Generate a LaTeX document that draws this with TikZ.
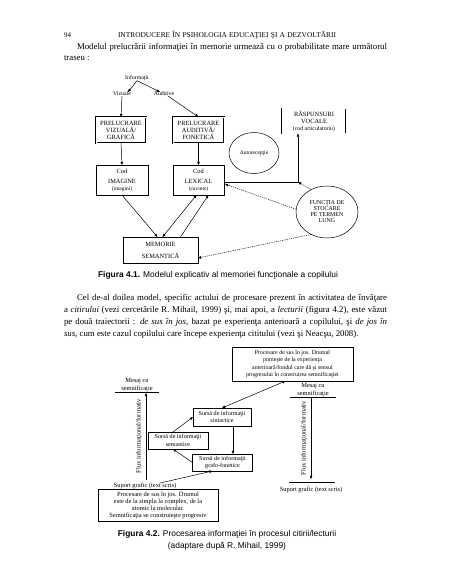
\documentclass[tikz,border=0pt]{standalone}
\usepackage{fontspec}
\setmainfont{Liberation Serif}
\newfontfamily\capfont{Liberation Sans}
\usetikzlibrary{shapes.geometric,arrows.meta}
\begin{document}
\begin{tikzpicture}[x=1pt,y=-1pt,
  every node/.style={inner sep=0pt, outer sep=0pt},
  txt/.style={font=\fontsize{8.8}{10}\selectfont, anchor=base west},
  dg/.style={font=\fontsize{5.8}{6.6}\selectfont, align=center},
  bx/.style={draw, line width=0.5pt, align=center, font=\fontsize{6.4}{7}\selectfont},
  dbx/.style={bx, double, double distance=0.9pt, line width=0.45pt},
  bx2/.style={draw, line width=0.5pt, align=center, font=\fontsize{6.1}{7.4}\selectfont},
  el/.style={draw, ellipse, line width=0.5pt, align=center},
  ar/.style={-{Triangle[length=3.2pt,width=2.6pt]}, line width=0.5pt},
  arr/.style={{Triangle[length=3.2pt,width=2.6pt]}-{Triangle[length=3.2pt,width=2.6pt]}, line width=0.5pt},
  dar/.style={ar, dash pattern=on 1.2pt off 1pt, line width=0.45pt},
  capt/.style={font=\capfont\fontsize{8.4}{9}\selectfont, anchor=base},
  sm/.style={font=\fontsize{6.4}{7.2}\selectfont, align=center}
]
\fill[white] (0,0) rectangle (452,584);
\useasboundingbox (0,0) rectangle (452,584);

% header
\node[font=\fontsize{7}{8}\selectfont, anchor=base west] (pg) at (64,37) {94};
\node[font=\fontsize{7.4}{8}\selectfont, anchor=base west] (hd) at (118,37) {\makebox[218pt][s]{INTRODUCERE ÎN PSIHOLOGIA EDUCAŢIEI ŞI A DEZVOLTĂRII}};

% paragraph 1
\node[txt] (p1a) at (77,49) {\makebox[310pt][s]{Modelul prelucrării informaţiei în memorie urmează cu o probabilitate mare următorul}};
\node[txt] (p1b) at (64,60) {traseu :};

% diagram 1
\node[dg] (info) at (137,78) {Informaţii};
\node[dg] (viz) at (122,94) {Vizuale};
\node[dg] (aud) at (164,94) {Auditive};
\node[dbx, minimum width=50pt, minimum height=26pt] (pv) at (121,130) {PRELUCRARE\\VIZUALĂ/\\GRAFICĂ};
\node[dbx, minimum width=51pt, minimum height=26pt] (pa) at (198.5,130) {PRELUCRARE\\AUDITIVĂ/\\FONETICĂ};
\node[el, minimum width=50pt, minimum height=41pt, font=\fontsize{5.5}{6}\selectfont] (auto) at (254,153) {Autorecepţie};
\node[dbx, minimum width=64pt, minimum height=25pt] (rv) at (314,121) {RĂSPUNSURI\\VOCALE\\{\fontsize{5.8}{6.4}\selectfont(cod articulatoriu)}};
\node[bx, minimum width=52pt, minimum height=30pt] (ci) at (122,180) {Cod\\[3pt]IMAGINE\\{\fontsize{5.4}{5.8}\selectfont(imagini)}};
\node[bx, minimum width=51pt, minimum height=30pt] (cl) at (198.5,180) {Cod\\[3pt]LEXICAL\\{\fontsize{5.4}{5.8}\selectfont(cuvinte)}};
\node[el, minimum width=62pt, minimum height=52pt, font=\fontsize{5.9}{6}\selectfont] (fs) at (327,212) {FUNCŢIA DE\\STOCARE\\PE TERMEN\\LUNG};
\node[bx, minimum width=75pt, minimum height=26pt] (ms) at (160.5,250) {MEMORIE\\[5pt]SEMANTICĂ};

\draw[ar] (info.south) -- ([xshift=6pt]viz.north);
\draw[ar] (info.south) -- ([xshift=-4pt]aud.north);
\draw[ar] (viz.south) -- (pv.north);
\draw[ar] ([xshift=4pt]aud.south) -- (pa.north);
\draw[ar] (pv.south) -- (ci.north);
\draw[ar] (pa.south) -- (cl.north);
\coordinate (co) at (298,182);
\coordinate (cle) at (225,184);
\draw[ar] (cl.east |- co) -- (co) -- (co |- rv.south);
\draw[dar] (fs.175) -- (cle);
\draw[dar] (fs.125) -- (co);
\draw[dar] (fs.235) -- ([yshift=-8pt]ms.east);
\draw[ar] (ci.south) -- ([xshift=-3pt]ms.north);
\draw[arr] ([xshift=2pt]ms.north) -- ([xshift=-2pt]cl.south);
\draw[ar] ([xshift=20pt]ms.north) -- ([xshift=10pt]cl.south);

\node[capt] (c1) at (218,277.5) {\textbf{Figura 4.1.} Modelul explicativ al memoriei funcţionale a copilului};

% paragraph 2
\node[txt] (p2a) at (77,300) {\makebox[310pt][s]{Cel de-al doilea model, specific actului de procesare prezent în activitatea de învăţare}};
\node[txt] (p2b) at (64,312) {\makebox[323pt][s]{a \textit{citirului} (vezi cercetările R. Mihail, 1999) şi, mai apoi, a \textit{lecturii} (figura 4.2), este văzut}};
\node[txt] (p2c) at (64,324) {\makebox[323pt][s]{pe două traiectorii : \textit{de sus în jos}, bazat pe experienţa anterioară a copilului, şi \textit{de jos în}}};
\node[txt] (p2d) at (64,336) {\textit{sus}, cum este cazul copilului care începe experienţa cititului (vezi şi Neacşu, 2008).};

% diagram 2
\node[bx2, minimum width=121pt, minimum height=34pt, font=\fontsize{5.9}{7.6}\selectfont] (tb) at (292.5,364) {Procesare de sus în jos. Drumul\\porneşte de la experienţa\\anterioară/fondul care dă şi sensul\\progresului în construirea semnificaţiei};
\node[sm] (ml) at (137,385) {Mesaj cu\\semnificaţie};
\node[sm] (mr) at (313,390) {Mesaj cu\\semnificaţie};
\draw[line width=0.5pt] (115,392.5) -- (159,392.5);
\draw[line width=0.5pt] (290,397.5) -- (336,397.5);
\coordinate (lt) at (146,393);
\coordinate (lb) at (146,480);
\coordinate (rt) at (311,398);
\coordinate (rb) at (311,479);
\draw[ar] (lb) -- (lt);
\draw[ar] (rt) -- (rb);
\node[sm, rotate=90, font=\fontsize{6.6}{7}\selectfont] (fl) at (139,436) {Flux informaţional/formativ};
\node[sm, rotate=90, font=\fontsize{6.6}{7}\selectfont] (fr) at (304,438) {Flux informaţional/formativ};
\draw[line width=0.5pt] (289,482.5) -- (335,482.5);
\node[sm] (sr) at (311,489.5) {Suport grafic (text scris)};

\node[bx2, minimum width=58pt, minimum height=18pt] (sint) at (222,417) {Sursă de informaţii\\sintactice};
\node[bx2, minimum width=60pt, minimum height=17pt] (sem) at (178,440.5) {Sursă de informaţii\\semantice};
\node[bx2, minimum width=60pt, minimum height=17pt] (gf) at (222.5,462.5) {Sursă de informaţii\\grafo-fonetice};
\node[sm] (sl) at (145,486) {Suport grafic (text scris)};
\node[bx2, minimum width=120pt, minimum height=32pt, font=\fontsize{6.4}{7.2}\selectfont] (bb) at (158,505.5) {Procesare de sus în jos. Drumul\\este de la simplu la complex, de la\\atomic la molecular.\\Semnificaţia se construieşte progresiv};

\draw[arr] (sint.north) -- ([xshift=-7pt]tb.south);
\draw[ar] ([xshift=11pt]sint.south) -- ([xshift=11pt]sint.south |- gf.north);
\draw[ar] (gf.west) -- ([xshift=-5pt]sem.south);
\draw[ar] ([xshift=-5pt]sem.north) -- (sint.west);
\draw[ar] ([xshift=15pt]sl.north) -- ([xshift=-10pt]gf.south);

\node[capt] (c2a) at (227,536) {\textbf{Figura 4.2.} Procesarea informaţiei în procesul citirii/lecturii};
\node[capt] (c2b) at (227,548) {(adaptare după R. Mihail, 1999)};
\end{tikzpicture}
\end{document}
